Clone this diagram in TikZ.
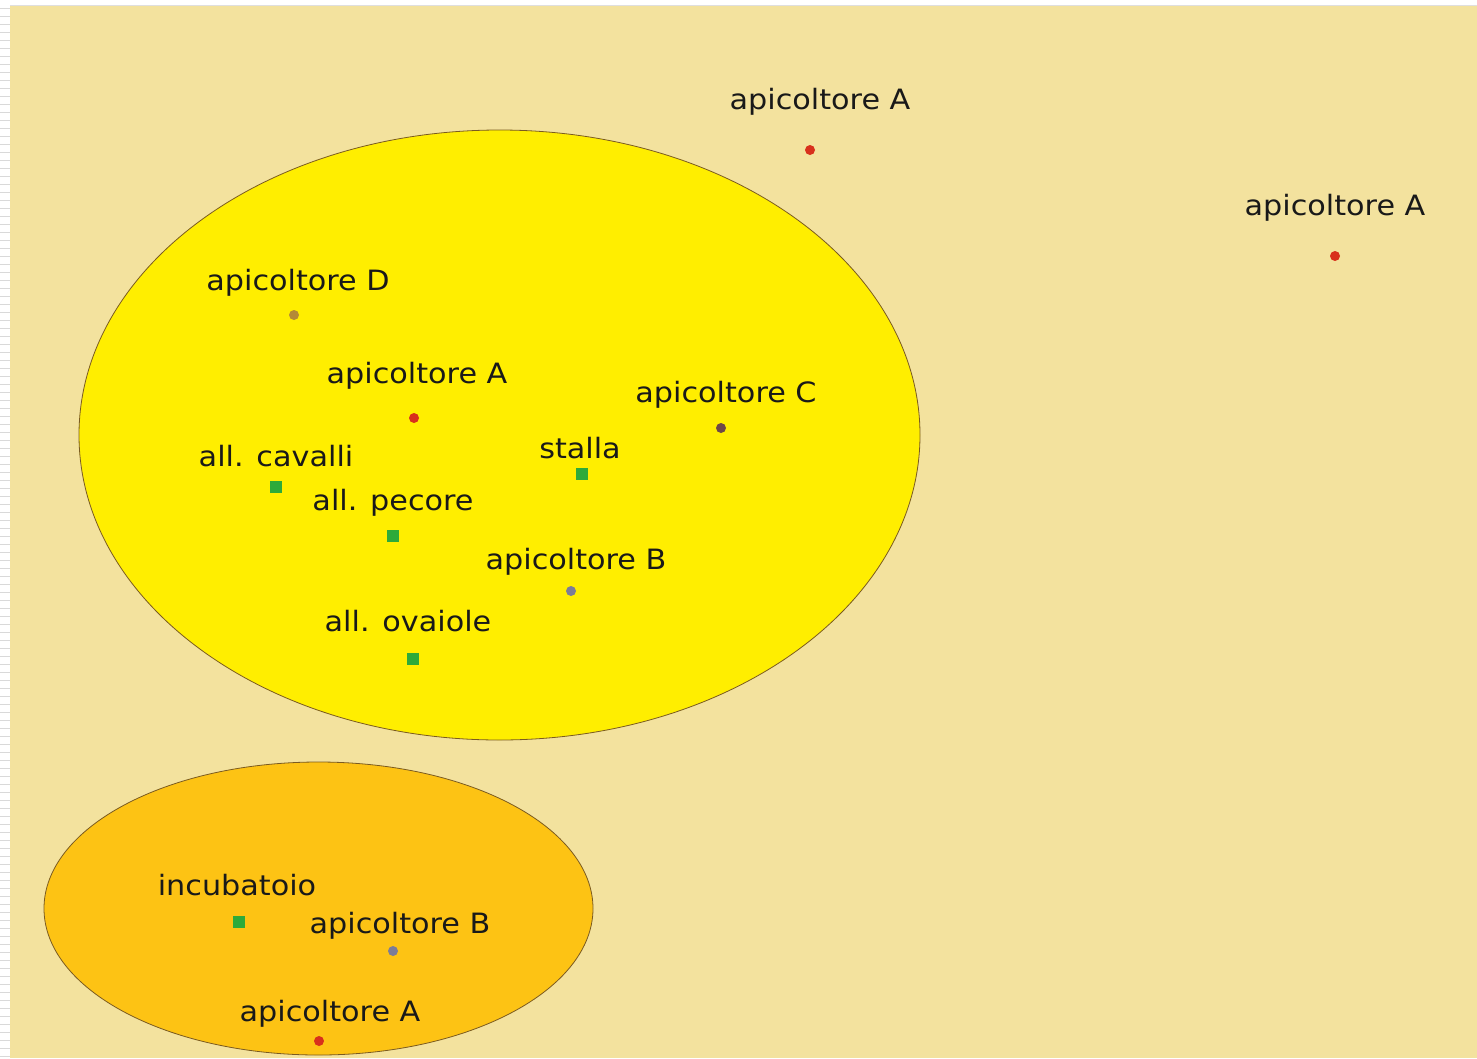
\documentclass[tikz,border=0pt]{standalone}
\usepackage{fontspec}
\setmainfont{DejaVu Sans}[FakeStretch=1.08]
\usetikzlibrary{shapes.geometric}
\definecolor{bg}{HTML}{F3E29E}
\definecolor{zoneA}{HTML}{FFEE00}
\definecolor{zoneB}{HTML}{FDC314}
\definecolor{rim}{HTML}{7A5A20}
\definecolor{redA}{HTML}{D8301C}
\definecolor{oliveD}{HTML}{B48A36}
\definecolor{brownC}{HTML}{6E4848}
\definecolor{greyB}{HTML}{7C7C98}
\definecolor{farm}{HTML}{2EAA3A}
\tikzset{
  lbl/.style={font=\fontsize{28}{32}\selectfont, text=black!90, inner sep=0pt},
  hive/.style={circle, fill=#1, draw=none, minimum size=10pt, inner sep=0pt},
  site/.style={rectangle, fill=farm, draw=none, minimum size=12pt, inner sep=0pt},
  zone/.style={ellipse, draw=rim, line width=0.8pt, fill=#1, inner sep=0pt}
}
\begin{document}
\begin{tikzpicture}[x=1pt,y=-1pt]
\useasboundingbox (0,0) rectangle (1477,1058);
\fill[bg] (0,0) rectangle (1477,1058);
% page margins: top rule and ruled left strip
\fill[white] (0,0) rectangle (1477,5);
\draw[gray!25, line width=1pt] (0,5) -- (1477,5);
\fill[white] (0,0) rectangle (10,1058);
\foreach \yy in {8,16,...,1058} \draw[gray!30, line width=1pt] (0,\yy) -- (10,\yy);

% zones
\node[zone=zoneA, minimum width=841pt, minimum height=610pt] (big) at (499.5,435) {};
\node[zone=zoneB, minimum width=549pt, minimum height=293pt] (small) at (318.5,908.5) {};

% outside the zones
\node[hive=redA] (a1) at (810,150) {};
\node[lbl] (ta1) at (820,102) {apicoltore A};
\node[hive=redA] (a2) at (1335,256) {};
\node[lbl] (ta2) at (1335,208) {apicoltore A};

% big zone
\node[hive=oliveD] (d) at (294,315) {};
\node[lbl] (td) at (298,283) {apicoltore D};
\node[hive=redA] (a3) at (414,418) {};
\node[lbl] (ta3) at (417,376) {apicoltore A};
\node[hive=brownC] (c) at (721,428) {};
\node[lbl] (tc) at (726,395) {apicoltore C};
\node[site] (cav) at (276,487) {};
\node[lbl] (tcav) at (276,456) {all. cavalli};
\node[site] (sta) at (582,474) {};
\node[lbl] (tsta) at (580,448) {stalla};
\node[site] (pec) at (393,536) {};
\node[lbl] (tpec) at (393,503) {all. pecore};
\node[hive=greyB] (b1) at (571,591) {};
\node[lbl] (tb1) at (576,562) {apicoltore B};
\node[site] (ova) at (413,659) {};
\node[lbl] (tova) at (408,621) {all. ovaiole};

% small zone
\node[site] (inc) at (239,922) {};
\node[lbl] (tinc) at (237,885) {incubatoio};
\node[hive=greyB] (b2) at (393,951) {};
\node[lbl] (tb2) at (400,926) {apicoltore B};
\node[hive=redA] (a4) at (319,1041) {};
\node[lbl] (ta4) at (330,1014) {apicoltore A};
\end{tikzpicture}
\end{document}
